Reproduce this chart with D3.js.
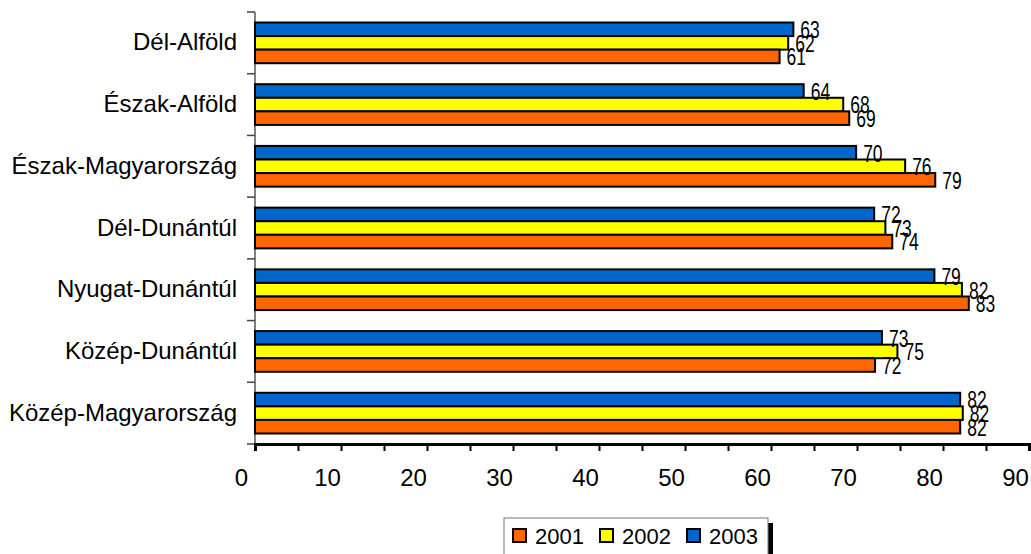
<!DOCTYPE html>
<html>
<head>
<meta charset="utf-8">
<script src="https://cdn.jsdelivr.net/npm/d3@7"></script>
<style>
  html, body { margin: 0; padding: 0; background: #fff; }
  svg { display: block; }
</style>
</head>
<body>
<svg id="chart" width="1031" height="554"></svg>
<script>
const categories = ["Dél-Alföld", "Észak-Alföld", "Észak-Magyarország", "Dél-Dunántúl", "Nyugat-Dunántúl", "Közép-Dunántúl", "Közép-Magyarország"];
const seriesNames = ["2003", "2002", "2001"]; // top to bottom within each group
const values2003 = [62.6, 63.8, 69.9, 72.0, 79.0, 72.9, 82.0];
const values2002 = [62.0, 68.4, 75.6, 73.3, 82.2, 74.7, 82.3];
const values2001 = [61.0, 69.1, 79.1, 74.1, 83.0, 72.1, 82.0];
const labels2003 = [63, 64, 70, 72, 79, 73, 82];
const labels2002 = [62, 68, 76, 73, 82, 75, 82];
const labels2001 = [61, 69, 79, 74, 83, 72, 82];
const xTicks = [0, 10, 20, 30, 40, 50, 60, 70, 80, 90];
const legendNames = ["2001", "2002", "2003"];
const colors = { "2001": "#FF6600", "2002": "#FFFF00", "2003": "#0066CC" };

const valuesBySeries = { "2003": values2003, "2002": values2002, "2001": values2001 };
const labelsBySeries = { "2003": labels2003, "2002": labels2002, "2001": labels2001 };

(function () {
const svg = d3.select("#chart");
const pLeft = 255, pRight = 1029, pTop = 12, pBottom = 444;
const font = "'Liberation Sans', Arial, sans-serif";

const x = d3.scaleLinear().domain([0, 90]).range([pLeft, pRight]);
const y = d3.scaleBand().domain(categories).range([pTop, pBottom]).padding(0);
const bw = y.bandwidth();
const y1 = d3.scaleBand().domain(seriesNames).range([10.5, bw - 10.5]).padding(0);

// Bars
const groups = svg.append("g").selectAll("g").data(categories).join("g")
  .attr("transform", d => `translate(0,${y(d)})`);

seriesNames.forEach(s => {
  groups.append("rect")
    .attr("x", x(0))
    .attr("y", y1(s))
    .attr("width", (d, i) => x(valuesBySeries[s][i]) - x(0))
    .attr("height", y1.bandwidth())
    .attr("fill", colors[s])
    .attr("stroke", "#000")
    .attr("stroke-width", 2);
});

// Data labels (narrow look via horizontal scaling)
seriesNames.forEach(s => {
  groups.append("text")
    .attr("transform", (d, i) => `translate(${x(valuesBySeries[s][i]) + 7},${y1(s) + y1.bandwidth() / 2 + 1}) scale(0.76,1)`)
    .attr("dominant-baseline", "central")
    .attr("font-family", font)
    .attr("font-size", 23)
    .attr("fill", "#000")
    .text((d, i) => labelsBySeries[s][i]);
});

// Y axis line and ticks
svg.append("line").attr("x1", pLeft).attr("x2", pLeft).attr("y1", pTop).attr("y2", pBottom)
  .attr("stroke", "#000").attr("stroke-width", 1);
const yTickPos = categories.map(c => y(c)).concat([pBottom]);
svg.append("g").selectAll("line").data(yTickPos).join("line")
  .attr("x1", pLeft - 8).attr("x2", pLeft).attr("y1", d => d).attr("y2", d => d)
  .attr("stroke", "#444").attr("stroke-width", 1.5);

// Category labels
svg.append("g").selectAll("text").data(categories).join("text")
  .attr("x", 237)
  .attr("y", d => y(d) + bw / 2 - 1)
  .attr("text-anchor", "end")
  .attr("dominant-baseline", "central")
  .attr("font-family", font)
  .attr("font-size", 24)
  .attr("fill", "#000")
  .text(d => d);

// X axis
const xAxis = d3.axisBottom(x).tickValues(d3.range(0, 91, 5)).tickSize(7).tickFormat("");
const gx = svg.append("g").attr("transform", `translate(0,${pBottom})`).call(xAxis);
gx.select(".domain").attr("stroke", "#000").attr("stroke-width", 3);
gx.selectAll(".tick line").attr("stroke", "#000").attr("stroke-width", 2);

svg.append("g").selectAll("text").data(xTicks).join("text")
  .attr("x", d => x(d) - 13.5)
  .attr("y", 486)
  .attr("text-anchor", "middle")
  .attr("font-family", font)
  .attr("font-size", 24)
  .attr("fill", "#000")
  .text(d => d);

// Legend
const lg = svg.append("g");
const lgX = 504, lgY = 518, lgW = 264;
lg.append("rect").attr("x", lgX + 5).attr("y", lgY + 5).attr("width", lgW).attr("height", 60).attr("fill", "#000");
lg.append("rect").attr("x", lgX).attr("y", lgY).attr("width", lgW).attr("height", 60)
  .attr("fill", "#fff").attr("stroke", "#777").attr("stroke-width", 1);
const legendStep = 87;
legendNames.forEach((n, i) => {
  const gx0 = lgX + 9 + i * legendStep;
  lg.append("rect").attr("x", gx0).attr("y", 529).attr("width", 13).attr("height", 13)
    .attr("fill", colors[n]).attr("stroke", "#000").attr("stroke-width", 2);
  lg.append("text").attr("x", gx0 + 22).attr("y", 544)
    .attr("font-family", font)
    .attr("font-size", 22).attr("fill", "#000").text(n);
});
})();
</script>
</body>
</html>
